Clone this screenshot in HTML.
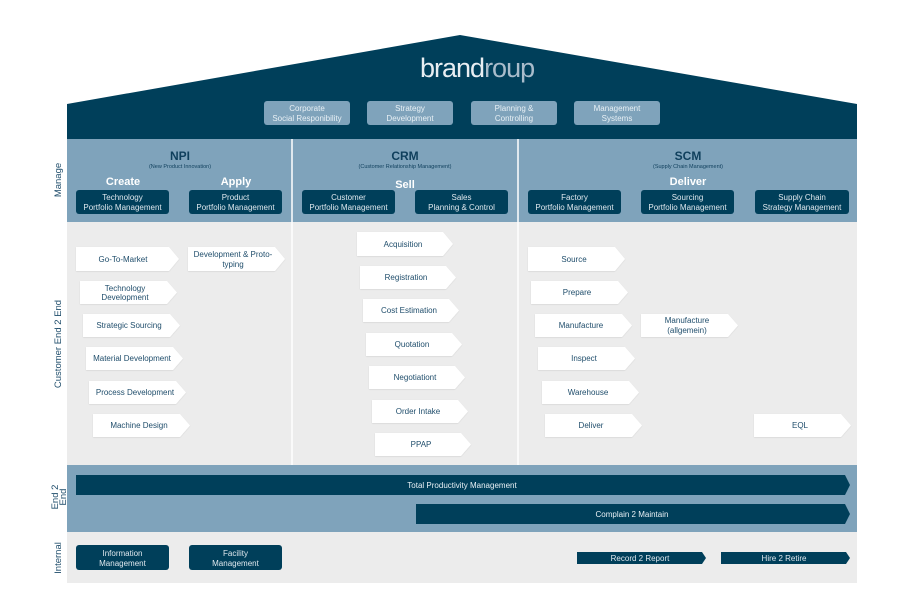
<!DOCTYPE html>
<html><head><meta charset="utf-8"><style>
html,body{margin:0;padding:0;background:#fff;}
svg{display:block;}
text{font-family:"Liberation Sans",sans-serif;}
</style></head><body>
<svg width="900" height="608" viewBox="0 0 900 608" xmlns="http://www.w3.org/2000/svg">
<defs>
<filter id="sh" x="-10%" y="-20%" width="130%" height="160%"><feDropShadow dx="0" dy="0.5" stdDeviation="0.6" flood-color="#000" flood-opacity="0.12"/></filter>
</defs>
<!-- roof -->
<polygon points="67,104 460,35 857,104 857,139 67,139" fill="#003f5a"/>
<text x="420" y="77" font-size="27" fill="#e8eef2" font-family="DejaVu Sans, sans-serif" font-weight="300" letter-spacing="-1">brand<tspan fill="#a9bccb">roup</tspan></text>
<g font-size="8" fill="#e8f0f5" text-anchor="middle">
<rect x="264" y="101" width="86" height="24" rx="3" fill="#7fa3bb"/><text x="307" y="111">Corporate</text><text x="307" y="121">Social Responibility</text>
<rect x="367" y="101" width="86" height="24" rx="3" fill="#7fa3bb"/><text x="410" y="111">Strategy</text><text x="410" y="121">Development</text>
<rect x="471" y="101" width="86" height="24" rx="3" fill="#7fa3bb"/><text x="514" y="111">Planning &amp;</text><text x="514" y="121">Controlling</text>
<rect x="574" y="101" width="86" height="24" rx="3" fill="#7fa3bb"/><text x="617" y="111">Management</text><text x="617" y="121">Systems</text>
</g>
<!-- bands -->
<rect x="67" y="139" width="790" height="83" fill="#7fa3bb"/>
<rect x="67" y="222" width="790" height="243" fill="#ececec"/>
<rect x="67" y="465" width="790" height="67" fill="#7fa3bb"/>
<rect x="67" y="532" width="790" height="51" fill="#ececec"/>
<line x1="292" y1="139" x2="292" y2="465" stroke="#fff" stroke-width="1.5"/>
<line x1="518" y1="139" x2="518" y2="465" stroke="#fff" stroke-width="1.5"/>
<!-- side labels -->
<g font-size="9.5" fill="#1f4d6b" text-anchor="middle">
<text transform="translate(61,180) rotate(-90)">Manage</text>
<text transform="translate(61,344) rotate(-90)">Customer End 2 End</text>
<text transform="translate(58,497) rotate(-90)">End 2</text>
<text transform="translate(66,497) rotate(-90)">End</text>
<text transform="translate(61,558) rotate(-90)">Internal</text>
</g>
<!-- headers -->
<g fill="#0f3f5c" text-anchor="middle">
<text x="180" y="160" font-size="12" font-weight="bold">NPI</text>
<text x="180" y="168" font-size="5.5">(New Product Innovation)</text>
<text x="405" y="160" font-size="12" font-weight="bold">CRM</text>
<text x="405" y="168" font-size="5.5">(Customer Relationship Management)</text>
<text x="688" y="160" font-size="12" font-weight="bold">SCM</text>
<text x="688" y="168" font-size="5.5">(Supply Chain Management)</text>
</g>
<g fill="#fff" text-anchor="middle" font-size="11" font-weight="bold">
<text x="123" y="185">Create</text><text x="236" y="185">Apply</text>
<text x="405" y="188">Sell</text><text x="688" y="185">Deliver</text>
</g>
<!-- manage boxes -->
<g font-size="8" fill="#dfe8ee" text-anchor="middle">
<rect x="76" y="190" width="93" height="24" rx="3" fill="#003f5a"/><text x="122.5" y="200">Technology</text><text x="122.5" y="210">Portfolio Management</text>
<rect x="189" y="190" width="93" height="24" rx="3" fill="#003f5a"/><text x="235.5" y="200">Product</text><text x="235.5" y="210">Portfolio Management</text>
<rect x="302" y="190" width="93" height="24" rx="3" fill="#003f5a"/><text x="348.5" y="200">Customer</text><text x="348.5" y="210">Portfolio Management</text>
<rect x="415" y="190" width="93" height="24" rx="3" fill="#003f5a"/><text x="461.5" y="200">Sales</text><text x="461.5" y="210">Planning &amp; Control</text>
<rect x="528" y="190" width="93" height="24" rx="3" fill="#003f5a"/><text x="574.5" y="200">Factory</text><text x="574.5" y="210">Portfolio Management</text>
<rect x="641" y="190" width="93" height="24" rx="3" fill="#003f5a"/><text x="687.5" y="200">Sourcing</text><text x="687.5" y="210">Portfolio Management</text>
<rect x="755" y="190" width="94" height="24" rx="3" fill="#003f5a"/><text x="802" y="200">Supply Chain</text><text x="802" y="210">Strategy Management</text>
</g>
<!-- pentagons -->
<g fill="#fff" filter="url(#sh)">
<polygon points="76,247 169,247 179,259 169,271 76,271"/>
<polygon points="80,281 167,281 177,292.5 167,304 80,304"/>
<polygon points="83,314 170,314 180,325.5 170,337 83,337"/>
<polygon points="86,347 173,347 183,358.5 173,370 86,370"/>
<polygon points="89,381 176,381 186,392.5 176,404 89,404"/>
<polygon points="93,414 180,414 190,425.5 180,437 93,437"/>
<polygon points="188,247 275,247 285,259 275,271 188,271"/>
<polygon points="357,232 443,232 453,244 443,256 357,256"/>
<polygon points="360,266 446,266 456,277.5 446,289 360,289"/>
<polygon points="363,299 449,299 459,310.5 449,322 363,322"/>
<polygon points="366,333 452,333 462,344.5 452,356 366,356"/>
<polygon points="369,366 455,366 465,377.5 455,389 369,389"/>
<polygon points="372,400 458,400 468,411.5 458,423 372,423"/>
<polygon points="375,433 461,433 471,444.5 461,456 375,456"/>
<polygon points="528,247 615,247 625,259 615,271 528,271"/>
<polygon points="531,281 618,281 628,292.5 618,304 531,304"/>
<polygon points="535,314 622,314 632,325.5 622,337 535,337"/>
<polygon points="538,347 625,347 635,358.5 625,370 538,370"/>
<polygon points="542,381 629,381 639,392.5 629,404 542,404"/>
<polygon points="545,414 632,414 642,425.5 632,437 545,437"/>
<polygon points="641,314 728,314 738,325.5 728,337 641,337"/>
<polygon points="754,414 841,414 851,425.5 841,437 754,437"/>
</g>
<g font-size="8" fill="#1f4d6b" text-anchor="middle">
<text x="123" y="262">Go-To-Market</text>
<text x="125" y="291">Technology</text><text x="125" y="300">Development</text>
<text x="129" y="328">Strategic Sourcing</text>
<text x="132" y="361">Material Development</text>
<text x="135" y="395">Process Development</text>
<text x="139" y="428">Machine Design</text>
<text x="233" y="257">Development &amp; Proto-</text><text x="233" y="267">typing</text>
<text x="403" y="247">Acquisition</text>
<text x="406" y="280">Registration</text>
<text x="409" y="313">Cost Estimation</text>
<text x="412" y="347">Quotation</text>
<text x="415" y="380">Negotiationt</text>
<text x="418" y="414">Order Intake</text>
<text x="421" y="447">PPAP</text>
<text x="574" y="262">Source</text>
<text x="577" y="295">Prepare</text>
<text x="581" y="328">Manufacture</text>
<text x="584" y="361">Inspect</text>
<text x="588" y="395">Warehouse</text>
<text x="591" y="428">Deliver</text>
<text x="687" y="323">Manufacture</text><text x="687" y="333">(allgemein)</text>
<text x="800" y="428">EQL</text>
</g>
<!-- end2end bars -->
<polygon points="76,475 845,475 850,485 845,495 76,495" fill="#003f5a"/>
<text x="462" y="488" font-size="8" fill="#e8f0f5" text-anchor="middle">Total Productivity Management</text>
<polygon points="416,504 845,504 850,514 845,524 416,524" fill="#003f5a"/>
<text x="632" y="517" font-size="8" fill="#e8f0f5" text-anchor="middle">Complain 2 Maintain</text>
<!-- internal -->
<g font-size="8" fill="#dfe8ee" text-anchor="middle">
<rect x="76" y="545" width="93" height="25" rx="3" fill="#003f5a"/><text x="122.5" y="556">Information</text><text x="122.5" y="566">Management</text>
<rect x="189" y="545" width="93" height="25" rx="3" fill="#003f5a"/><text x="235.5" y="556">Facility</text><text x="235.5" y="566">Management</text>
<polygon points="577,552 702,552 706,558 702,564 577,564" fill="#003f5a"/><text x="640" y="561">Record 2 Report</text>
<polygon points="721,552 846,552 850,558 846,564 721,564" fill="#003f5a"/><text x="784" y="561">Hire 2 Retire</text>
</g>
</svg>
</body></html>
